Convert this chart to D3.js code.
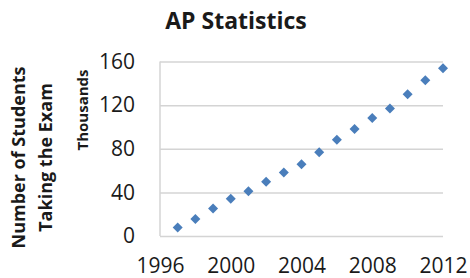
<!DOCTYPE html>
<html>
<head>
<meta charset="utf-8">
<script src="https://cdn.jsdelivr.net/npm/d3@7"></script>
<style>
  body { margin: 0; background: #fff; }
  text { font-family: "Open Sans", sans-serif; fill: #1a1a1a; }
</style>
</head>
<body>
<div id="chart"></div>
<script>
// AP Statistics exam takers, in thousands
const YEARS = [1997, 1998, 1999, 2000, 2001, 2002, 2003, 2004, 2005, 2006, 2007, 2008, 2009, 2010, 2011, 2012]
const STUDENTS = [7.7, 15.5, 25.2, 34.1, 41.0, 49.8, 58.2, 65.9, 76.8, 88.2, 98.0, 108.3, 116.9, 129.9, 142.9, 153.9]
const X_TICKS = [1996, 2000, 2004, 2008, 2012]
const Y_TICKS = [0, 40, 80, 120, 160]

const WIDTH = 470
const HEIGHT = 278
const BLUE = '#4a7ebb'
const GRID = '#d4d4d4'

const svg = d3.select('#chart').append('svg')
  .attr('width', WIDTH)
  .attr('height', HEIGHT)

const x = d3.scaleLinear().domain([1996, 2012]).range([160, 443])
const y = d3.scaleLinear().domain([0, 160]).range([236, 61.5])

// gridlines (incl. the zero line)
svg.append('g')
  .attr('transform', 'translate(160,0)')
  .call(d3.axisLeft(y).tickValues(Y_TICKS).tickSize(-(443 - 160)).tickFormat(''))
  .call(g => g.select('.domain').remove())
  .call(g => g.selectAll('.tick line').attr('stroke', GRID).attr('stroke-width', 1.5))

// vertical axis line
svg.append('line')
  .attr('x1', 160).attr('x2', 160)
  .attr('y1', y(160)).attr('y2', y(0))
  .attr('stroke', GRID).attr('stroke-width', 1.5)

// y tick labels
svg.append('g')
  .attr('transform', 'translate(160,0)')
  .call(d3.axisLeft(y).tickValues(Y_TICKS).tickSize(0).tickPadding(25))
  .call(g => g.select('.domain').remove())
  .call(g => g.selectAll('text')
    .attr('font-size', '21px')
    .attr('font-family', '"Open Sans", sans-serif')
    .attr('fill', '#1a1a1a'))

// x tick labels
svg.append('g')
  .attr('transform', `translate(0,${y(0)})`)
  .call(d3.axisBottom(x).tickValues(X_TICKS).tickSize(0).tickPadding(22).tickFormat(d3.format('d')))
  .call(g => g.select('.domain').remove())
  .call(g => g.selectAll('text')
    .attr('font-size', '21px')
    .attr('font-family', '"Open Sans", sans-serif')
    .attr('fill', '#1a1a1a'))

// points
svg.append('g')
  .selectAll('path')
  .data(YEARS)
  .join('path')
  .attr('d', d3.symbol(d3.symbolSquare, 50))
  .attr('transform', (d, i) => `translate(${x(d)},${y(STUDENTS[i])}) rotate(45)`)
  .attr('fill', BLUE)

// title
svg.append('text')
  .attr('x', 236).attr('y', 28.5)
  .attr('text-anchor', 'middle')
  .attr('font-size', '23px')
  .attr('font-weight', 'bold')
  .text('AP Statistics')

// y titles
const yTitle = (txt, cx, cy, size) =>
  svg.append('text')
    .attr('transform', `translate(${cx},${cy}) rotate(-90)`)
    .attr('text-anchor', 'middle')
    .attr('font-size', size)
    .attr('font-weight', 'bold')
    .text(txt)

yTitle('Number of Students', 25, 157.5, '18px')
yTitle('Taking the Exam', 52, 157.5, '18px')
yTitle('Thousands', 87.5, 110, '15px')
</script>
</body>
</html>
